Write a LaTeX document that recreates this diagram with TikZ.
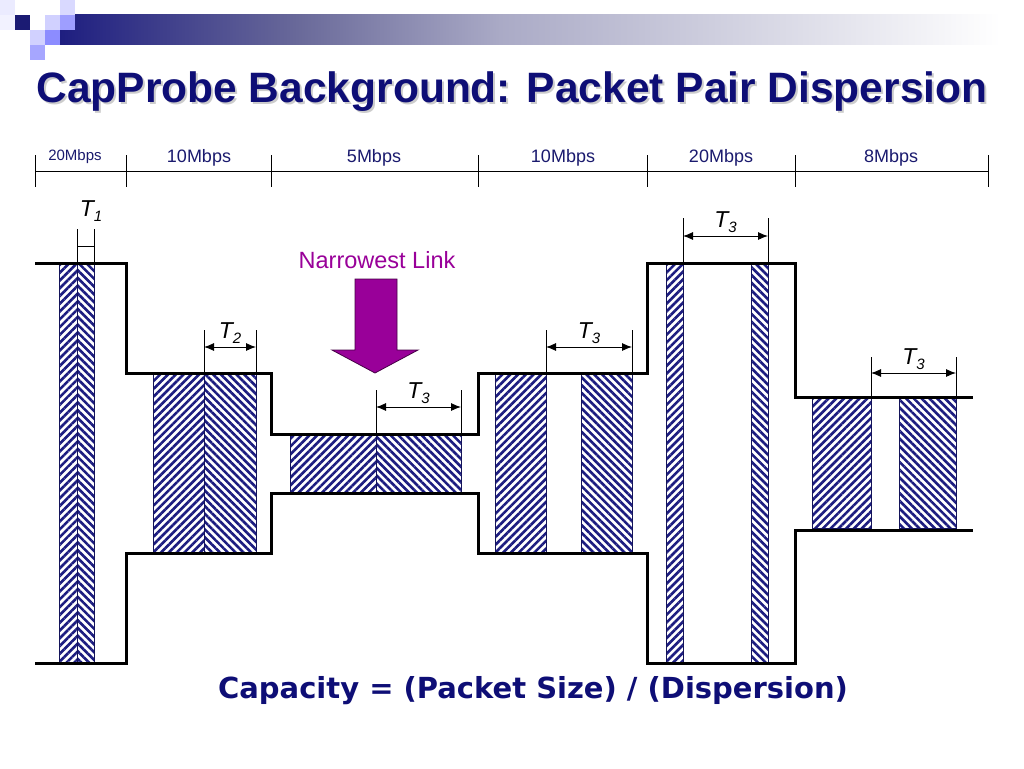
\documentclass[tikz,border=0pt]{standalone}
\usepackage{fontspec}
\setmainfont{Liberation Sans}
\newfontfamily\formulafont{DejaVu Sans}
\usetikzlibrary{patterns.meta,arrows.meta}

\definecolor{titleblue}{RGB}{14,14,118}
\definecolor{hatchblue}{RGB}{28,28,128}
\definecolor{labelblue}{RGB}{26,26,110}
\definecolor{linkpurple}{RGB}{153,0,153}
\definecolor{bannerA}{RGB}{30,30,128}
\definecolor{bannerB}{RGB}{106,106,154}
\definecolor{bannerC}{RGB}{170,170,198}

\newcommand{\tname}[1]{T\raisebox{-5pt}{\fontsize{15}{15}\selectfont #1}}

\tikzset{
  pipe/.style={line width=3pt, line join=miter},
  pkta/.style={rectangle, draw=hatchblue!70!black, line width=0.8pt, inner sep=0pt, outer sep=0pt,
    anchor=north west, pattern={Lines[angle=45,distance=5.5pt,line width=2.6pt]}, pattern color=hatchblue},
  pktb/.style={pkta, pattern={Lines[angle=-45,distance=5.5pt,line width=2.6pt]}},
  extline/.style={line width=0.9pt},
  dimarrow/.style={line width=0.9pt, {Latex[length=10pt,width=8pt]}-{Latex[length=10pt,width=8pt]}},
  tlabel/.style={above, inner sep=3pt, font=\fontsize{23}{23}\selectfont\itshape},
  ratelabel/.style={anchor=base, text=labelblue, font=\fontsize{18}{18}\selectfont},
}

\begin{document}
\begin{tikzpicture}[x=1pt, y=-1pt]
    \useasboundingbox[fill=white] (0,0) rectangle (1024,768);

    % title banner
    \fill[left color=bannerA, right color=bannerB] (60,15) rectangle (300.5,45);
    \fill[left color=bannerB, right color=bannerC] (300,15) rectangle (500.5,45);
    \fill[left color=bannerC, right color=white] (500,15) rectangle (1000,45);
    \fill[white] (1000,15) rectangle (1024,45);
    \fill[blue!8!white] (0,0) rectangle (15,15);
    \fill[blue!5!white] (0,15) rectangle (15,30);
    \fill[bannerA!90!black] (15,15) rectangle (30,30);
    \fill[blue!18!white] (45,15) rectangle (60,30);
    \fill[blue!15!white] (60,0) rectangle (75,15);
    \fill[blue!38!white] (60,15) rectangle (75,30);
    \fill[blue!18!white] (30,30) rectangle (45,45);
    \fill[blue!45!white] (45,30) rectangle (60,45);
    \fill[blue!35!white] (30,45) rectangle (45,60);

    \node[text=gray!40, font=\bfseries\fontsize{42.5}{50}\selectfont] (titleshadow) at (514,94) {CapProbe Background: Packet Pair Dispersion};
    \node[text=titleblue, font=\bfseries\fontsize{42.5}{50}\selectfont] (title) at (512,92) {CapProbe Background: Packet Pair Dispersion};

    % link rates
    \draw[line width=1pt] (35,171) -- (988,171);
    \foreach \x in {35,126,271,478,647,795,988}
        \draw[line width=1pt] (\x,155) -- (\x,187);
    \node[ratelabel, font=\fontsize{15}{15}\selectfont] (rate1) at (75,160) {20Mbps};
    \node[ratelabel] (rate2) at (199,162) {10Mbps};
    \node[ratelabel] (rate3) at (374,162) {5Mbps};
    \node[ratelabel] (rate4) at (563,162) {10Mbps};
    \node[ratelabel] (rate5) at (721,162) {20Mbps};
    \node[ratelabel] (rate6) at (891,162) {8Mbps};

    % packets
    \node[pkta, minimum width=18pt, minimum height=400pt] (pa1) at (59,263) {};
    \node[pktb, minimum width=17pt, minimum height=400pt] (pb1) at (77,263) {};
    \node[pkta, minimum width=51pt, minimum height=180pt] (pa2) at (153,373) {};
    \node[pktb, minimum width=52pt, minimum height=180pt] (pb2) at (204,373) {};
    \node[pkta, minimum width=86pt, minimum height=59pt] (pa3) at (290,434) {};
    \node[pktb, minimum width=85pt, minimum height=59pt] (pb3) at (376,434) {};
    \node[pkta, minimum width=51pt, minimum height=180pt] (pa4) at (495,373) {};
    \node[pktb, minimum width=51pt, minimum height=180pt] (pb4) at (581,373) {};
    \node[pkta, minimum width=17pt, minimum height=400pt] (pa5) at (666,263) {};
    \node[pktb, minimum width=17pt, minimum height=400pt] (pb5) at (751,263) {};
    \node[pkta, minimum width=59pt, minimum height=130pt] (pa6) at (812,398) {};
    \node[pktb, minimum width=57pt, minimum height=130pt] (pb6) at (899,398) {};

    % pipe walls
    \draw[pipe] (35,263) -- (126,263) -- (126,373) -- (271,373) -- (271,434) -- (478,434)
        -- (478,373) -- (647,373) -- (647,263) -- (795,263) -- (795,397) -- (973,397);
    \draw[pipe] (35,663) -- (126,663) -- (126,553) -- (271,553) -- (271,493) -- (478,493)
        -- (478,553) -- (647,553) -- (647,663) -- (795,663) -- (795,530) -- (973,530);

    % dispersion marks
    \coordinate (e1a) at (77,229);  \coordinate (e1b) at (94,229);
    \coordinate (d1a) at (77,246);  \coordinate (d1b) at (94,246);
    \draw[extline] (pa1.north east) -- (e1a);
    \draw[extline] (pb1.north east) -- (e1b);
    \draw[extline] (d1a) -- (d1b);
    \node[font=\fontsize{23}{23}\selectfont\itshape] (t1) at (91,211) {\tname{1}};

    \coordinate (e2a) at (204,330); \coordinate (e2b) at (256,330);
    \coordinate (d2a) at (204,347); \coordinate (d2b) at (256,347);
    \draw[extline] (pa2.north east) -- (e2a);
    \draw[extline] (pb2.north east) -- (e2b);
    \draw[dimarrow] (d2a) -- node[tlabel] (t2) {\tname{2}} (d2b);

    \coordinate (e3a) at (376,390); \coordinate (e3b) at (461,390);
    \coordinate (d3a) at (376,407); \coordinate (d3b) at (461,407);
    \draw[extline] (pa3.north east) -- (e3a);
    \draw[extline] (pb3.north east) -- (e3b);
    \draw[dimarrow] (d3a) -- node[tlabel] (t3) {\tname{3}} (d3b);

    \coordinate (e4a) at (546,330); \coordinate (e4b) at (632,330);
    \coordinate (d4a) at (546,347); \coordinate (d4b) at (632,347);
    \draw[extline] (pa4.north east) -- (e4a);
    \draw[extline] (pb4.north east) -- (e4b);
    \draw[dimarrow] (d4a) -- node[tlabel] (t4) {\tname{3}} (d4b);

    \coordinate (e5a) at (683,218); \coordinate (e5b) at (768,218);
    \coordinate (d5a) at (683,236); \coordinate (d5b) at (768,236);
    \draw[extline] (pa5.north east) -- (e5a);
    \draw[extline] (pb5.north east) -- (e5b);
    \draw[dimarrow] (d5a) -- node[tlabel] (t5) {\tname{3}} (d5b);

    \coordinate (e6a) at (871,357); \coordinate (e6b) at (956,357);
    \coordinate (d6a) at (871,373); \coordinate (d6b) at (956,373);
    \draw[extline] (pa6.north east) -- (e6a);
    \draw[extline] (pb6.north east) -- (e6b);
    \draw[dimarrow] (d6a) -- node[tlabel] (t6) {\tname{3}} (d6b);

    % narrowest link
    \node[anchor=base, text=linkpurple, font=\fontsize{23.5}{23.5}\selectfont] (narrow) at (377,268) {Narrowest Link};
    \draw[fill=linkpurple, draw=linkpurple!45!black, line width=0.8pt] (355,279) -- (397,279) -- (397,350)
        -- (418,350) -- (375,373) -- (332,350) -- (355,350) -- cycle;

    \node[anchor=base, text=titleblue, font=\formulafont\bfseries\fontsize{29}{29}\selectfont] (formula) at (533,698) {Capacity = (Packet Size) / (Dispersion)};
\end{tikzpicture}
\end{document}
